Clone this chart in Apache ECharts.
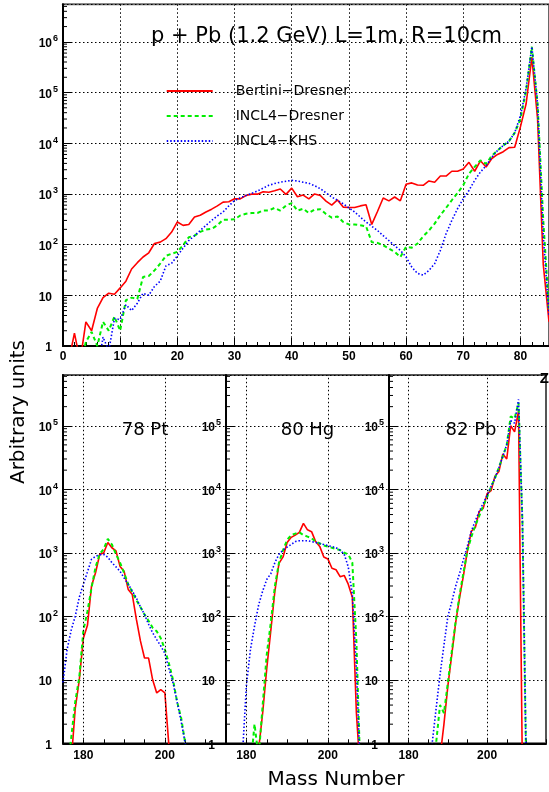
<!DOCTYPE html>
<html>
<head>
<meta charset="utf-8">
<script src="https://cdn.jsdelivr.net/npm/echarts@6/dist/echarts.min.js"></script>
<style>html,body{margin:0;padding:0;background:#fff;}#c{width:549px;height:792px;}</style>
</head>
<body>
<div id="c"></div>
<script>
// ---------- DATA ----------
const seriesNames = ['Bertini\u2212Dresner', 'INCL4\u2212Dresner', 'INCL4\u2212KHS'];
const zStart = 1; // Z = 1 .. 85
const zRed = [0.5,1.8,0.5,3,2,5.5,9,11,10.5,14,19,33,44,57,69,105,112,131,177,280,240,250,350,380,440,500,580,690,700,800,800,930,990,990,1100,1080,1150,1250,980,1300,880,950,800,1000,930,720,600,760,550,540,540,580,610,250,450,830,730,870,730,1550,1650,1500,1480,1800,1700,2250,2250,2800,2800,3100,4200,2800,4500,3400,5000,6000,6800,8200,8300,21000,60000,500000,30000,40,3];
const zGreen = [0.3,0.3,0.4,1.2,1.9,1.0,3,2,3.8,2,8,9,8.5,23,24,31,42,60,66,72,97,140,150,178,198,205,240,310,310,315,375,405,420,420,470,470,530,470,590,660,470,510,420,490,500,400,340,360,280,250,250,240,230,112,108,97,83,72,57,90,87,105,146,190,260,380,530,750,1040,1480,2500,3400,4600,3900,5700,7200,9000,11000,16000,30000,110000,800000,60000,300,5];
const zBlue = [0.3,0.3,0.3,0.3,0.3,0.3,1.5,0.8,3.5,3.3,6.5,5,7,11,10,15,19,38,43,60,85,120,150,190,240,300,370,440,580,740,840,930,1030,1140,1300,1480,1600,1700,1780,1850,1800,1700,1620,1450,1270,1050,870,750,640,530,440,350,280,230,190,150,120,95,77,57,36,27,25,31,42,77,164,300,510,800,1170,1850,2700,3600,5300,7200,9000,11000,16000,35000,120000,800000,60000,150,4];

const ptStart = 175; // A = 175 .. 206
const ptRed = [0.3,0.3,0.5,3.5,10,45,72,300,490,940,1000,1450,1200,1070,610,510,265,220,90,41,22,22,10,6.2,7,6.2,0.9,0.2,null,null,null,null];
const ptGreen = [0.3,0.3,1.2,4.5,11,60,120,280,600,950,1150,1650,1350,950,700,480,320,240,180,140,107,85,66,58,45,30,18,10,4.5,2.5,1,0.3];
const ptBlue = [9,30,60,100,200,320,500,790,880,930,940,850,700,600,510,400,320,250,195,140,107,75,55,43,34,26,15,9,4.5,2.2,1,0.3];

const hgStart = 178; // A = 178 .. 208
const hgRed = [null,null,null,null,0.3,0.8,3,15,60,250,680,860,1450,1750,1900,2100,2900,2300,2150,1500,1260,860,800,570,540,420,440,320,200,3,0.3];
const hgGreen = [null,null,0.3,0.4,2,0.6,4,25,80,300,700,1100,1600,1900,2000,2100,1900,1800,1700,1500,1400,1300,1250,1200,1150,1100,1000,950,700,40,0.3];
const hgBlue = [0.3,0.6,8,30,70,150,250,380,470,700,950,1100,1230,1350,1500,1550,1550,1550,1500,1450,1400,1350,1300,1250,1200,1100,950,600,220,15,0.3];

const pbStart = 185; // A = 185 .. 210
const pbRed = [null,null,0.3,0.6,2,8,25,80,200,450,1100,2200,2500,4500,5000,8500,9500,16000,19000,36000,30000,100000,80000,170000,0.3,null];
const pbGreen = [null,0.3,1,4,3,9,28,85,220,500,1100,1800,2700,3800,5500,7500,11000,15000,22000,33000,50000,140000,130000,230000,3000,0.3];
const pbBlue = [0.3,1,3.5,12,35,100,170,300,480,800,1300,2200,3200,4500,6000,8000,11000,15000,22000,33000,50000,120000,110000,260000,3000,0.3];

const panelLabels = ['78 Pt', '80 Hg', '82 Pb'];
const topXTicks = { min: 0, max: 85, step: 10 };
const botXTicks = { min: 175, max: 215, step: 5, labelStep: 20 };
const topYMax = 5.5e6;
const botYMax = 6.3e5;
const gridLineMasses = [180, 200];

// ---------- HELPERS ----------
const colors = ['#ff0000', '#00ee00', '#0000ff'];
const lineStyles = [
  { color: colors[0], width: 1.6, type: 'solid' },
  { color: colors[1], width: 2, type: [4, 3] },
  { color: colors[2], width: 1.6, type: [1.5, 2] }
];
const pair = (start, arr) => arr.map((v, i) => [start + i, v]);
const dotted = { color: '#000', width: 1, type: [1.5, 2.5] };
const tickFont = { fontFamily: 'Liberation Sans', fontWeight: 'bold', color: '#000' };

function logLabel(v) {
  const l = Math.log10(v), e = Math.round(l);
  if (Math.abs(l - e) > 1e-6) return '';
  if (e === 0) return '{c|1}';
  if (e === 1) return '{c|10}';
  return '{a|10}{b|' + e + '}';
}
const richLog = {
  a: Object.assign({ fontSize: 12, padding: [4, 0, 0, 0] }, tickFont),
  b: Object.assign({ fontSize: 9, padding: [0, 0, 6, 1] }, tickFont),
  c: Object.assign({ fontSize: 12, padding: [4, 6, 0, 0] }, tickFont)
};
function yAxisCfg(gi, max) {
  return {
    gridIndex: gi, type: 'log', logBase: 10, min: 1, max: max,
    axisLine: { show: true, lineStyle: { color: '#000', width: 2 } },
    axisTick: { show: true, inside: true, length: 8, lineStyle: { color: '#000' } },
    splitLine: { show: true, lineStyle: dotted },
    axisLabel: { formatter: logLabel, rich: richLog, margin: 5, showMaxLabel: false }
  };
}
function minorVals(max) {
  const out = [];
  for (let k = 0; k < 7; k++) for (let m = 2; m <= 9; m++) { const v = m * Math.pow(10, k); if (v < max) out.push(v); }
  return out;
}
function minorTickSeries(gi, xPos, max, len) {
  return {
    type: 'custom', xAxisIndex: gi, yAxisIndex: gi, silent: true, clip: false, z: 4,
    data: minorVals(max).map(v => [xPos, v]),
    renderItem: function (params, api) {
      const p = api.coord([api.value(0), api.value(1)]);
      return { type: 'line', shape: { x1: p[0], y1: p[1], x2: p[0] + len, y2: p[1] }, style: { stroke: '#000', lineWidth: 1 } };
    }
  };
}
function lineSeries(gi, k, data, extra) {
  return Object.assign({
    name: seriesNames[k], type: 'line', xAxisIndex: gi, yAxisIndex: gi,
    data: data, showSymbol: false, symbol: 'none', clip: true,
    lineStyle: lineStyles[k], itemStyle: { color: colors[k] }, connectNulls: false
  }, extra || {});
}

// ---------- LAYOUT ----------
const grids = [
  { left: 63, top: 4.3, width: 489, height: 341.7, show: true, borderColor: '#666', borderWidth: 2 },
  { left: 63, top: 375, width: 163, height: 368.3, show: true, borderColor: '#555', borderWidth: 2 },
  { left: 226, top: 375, width: 163, height: 368.3, show: true, borderColor: '#555', borderWidth: 2 },
  { left: 389, top: 375, width: 163, height: 368.3, show: true, borderColor: '#555', borderWidth: 2 }
];

const xAxes = [{
  gridIndex: 0, type: 'value', min: topXTicks.min, max: topXTicks.max, interval: topXTicks.step,
  axisLine: { show: true, onZero: false, lineStyle: { color: '#000', width: 2 } },
  axisTick: { show: true, inside: true, length: 8, lineStyle: { color: '#000' } },
  minorTick: { show: true, splitNumber: 5, length: 4, lineStyle: { color: '#000' } },
  splitLine: { show: true, lineStyle: dotted },
  axisLabel: Object.assign({ fontSize: 12, margin: 5, showMaxLabel: false }, tickFont)
}];
for (let g = 1; g <= 3; g++) {
  xAxes.push({
    gridIndex: g, type: 'value', min: botXTicks.min, max: botXTicks.max, interval: botXTicks.step,
    axisLine: { show: true, onZero: false, lineStyle: { color: '#000', width: 2 } },
    axisTick: { show: true, inside: true, length: 4, lineStyle: { color: '#000' } },
    splitLine: { show: false },
    axisLabel: Object.assign({ fontSize: 12, margin: 6,
      formatter: v => (v % botXTicks.labelStep === 0 ? String(v) : '') }, tickFont)
  });
}
const yAxes = [yAxisCfg(0, topYMax), yAxisCfg(1, botYMax), yAxisCfg(2, botYMax), yAxisCfg(3, botYMax)];

const markGrid = {
  silent: true, symbol: 'none', label: { show: false }, lineStyle: dotted,
  data: gridLineMasses.map(m => ({ xAxis: m }))
};

const series = [
  lineSeries(0, 0, pair(zStart, zRed)),
  lineSeries(0, 1, pair(zStart, zGreen)),
  lineSeries(0, 2, pair(zStart, zBlue)),
  lineSeries(1, 0, pair(ptStart, ptRed), { markLine: markGrid }),
  lineSeries(1, 1, pair(ptStart, ptGreen)),
  lineSeries(1, 2, pair(ptStart, ptBlue)),
  lineSeries(2, 0, pair(hgStart, hgRed), { markLine: markGrid }),
  lineSeries(2, 1, pair(hgStart, hgGreen)),
  lineSeries(2, 2, pair(hgStart, hgBlue)),
  lineSeries(3, 0, pair(pbStart, pbRed), { markLine: markGrid }),
  lineSeries(3, 1, pair(pbStart, pbGreen)),
  lineSeries(3, 2, pair(pbStart, pbBlue)),
  minorTickSeries(0, topXTicks.min, topYMax, 4),
  minorTickSeries(1, botXTicks.min, botYMax, 4),
  minorTickSeries(2, botXTicks.min, botYMax, 4),
  minorTickSeries(3, botXTicks.min, botYMax, 4)
];

const bigFont = 'DejaVu Sans';
const graphics = [
  { type: 'text', x: 326.5, y: 37, style: { text: 'p + Pb (1.2 GeV) L=1m, R=10cm', font: '21px "DejaVu Sans"', fill: '#000', align: 'center', verticalAlign: 'middle' } },
  { type: 'text', x: 19, y: 412, rotation: Math.PI / 2, style: { text: 'Arbitrary units', font: '20px "DejaVu Sans"', fill: '#000', align: 'center', verticalAlign: 'middle' } },
  { type: 'text', x: 336, y: 780, style: { text: 'Mass Number', font: '20px "DejaVu Sans"', fill: '#000', align: 'center', verticalAlign: 'middle' } },
  { type: 'text', x: 549, y: 379, style: { text: 'Z', font: 'bold 15px "Liberation Sans"', fill: '#000', align: 'right', verticalAlign: 'middle' } },
  { type: 'text', x: 145, y: 430, style: { text: panelLabels[0], font: '18px "DejaVu Sans"', fill: '#000', align: 'center', verticalAlign: 'middle' } },
  { type: 'text', x: 307.5, y: 430, style: { text: panelLabels[1], font: '18px "DejaVu Sans"', fill: '#000', align: 'center', verticalAlign: 'middle' } },
  { type: 'text', x: 471, y: 430, style: { text: panelLabels[2], font: '18px "DejaVu Sans"', fill: '#000', align: 'center', verticalAlign: 'middle' } }
];

const chart = echarts.init(document.getElementById('c'), null, { renderer: 'canvas' });
chart.setOption({
  animation: false,
  backgroundColor: '#fff',
  grid: grids,
  xAxis: xAxes,
  yAxis: yAxes,
  legend: {
    data: seriesNames, orient: 'vertical', left: 160.7, top: 79,
    itemWidth: 46, itemHeight: 14, itemGap: 11, selectedMode: false,
    itemStyle: { opacity: 0, borderWidth: 0 },
    textStyle: { fontFamily: bigFont, fontSize: 14, color: '#000', padding: [0, 0, 0, 18], lineHeight: 14 }
  },
  series: series,
  graphic: graphics
});
</script>
</body>
</html>
